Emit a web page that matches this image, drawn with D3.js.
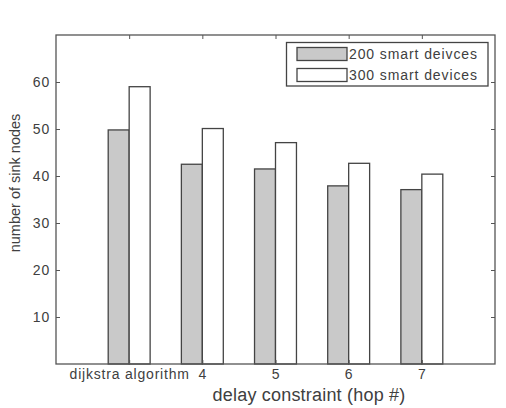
<!DOCTYPE html>
<html>
<head>
<meta charset="utf-8">
<script src="https://cdn.jsdelivr.net/npm/d3@7"></script>
<style>
  html, body { margin: 0; padding: 0; background: #fff; }
  svg { display: block; font-family: "Liberation Sans", Arial, sans-serif; }
</style>
</head>
<body>
<svg id="chart" width="506" height="408"></svg>
<script>
const categories = ["dijkstra algorithm", "4", "5", "6", "7"];
const seriesNames = ["200 smart deivces", "300 smart devices"];
const series200 = [49.8, 42.5, 41.5, 37.9, 37.1];
const series300 = [59.0, 50.1, 47.1, 42.7, 40.4];
const yTicks = [10, 20, 30, 40, 50, 60];

(function () {
const svg = d3.select("#chart");
const W = 506, H = 408;
const pLeft = 56, pRight = 495, pTop = 35, pBottom = 364;
const textColor = "#404040", axisColor = "#555";

const x = d3.scaleLinear().domain([0, categories.length + 1]).range([pLeft, pRight]);
const y = d3.scaleLinear().domain([0, 70]).range([pBottom, pTop]);
const barW = 0.2865;

svg.append("rect").attr("width", W).attr("height", H).attr("fill", "#fff");

// bars
const data = categories.map((c, i) => ({ c, i: i + 1, v: [series200[i], series300[i]] }));
const fills = ["#c9c9c9", "#ffffff"];
const g = svg.append("g");
data.forEach(d => {
  d.v.forEach((v, s) => {
    const x0 = x(d.i - barW + s * barW);
    const x1 = x(d.i + s * barW);
    g.append("rect")
      .attr("x", x0).attr("y", y(v))
      .attr("width", x1 - x0).attr("height", y(0) - y(v))
      .attr("fill", fills[s]).attr("stroke", "#444").attr("stroke-width", 1.3);
  });
});

// axes box
svg.append("rect").attr("x", pLeft).attr("y", pTop).attr("width", pRight - pLeft).attr("height", pBottom - pTop)
  .attr("fill", "none").attr("stroke", axisColor).attr("stroke-width", 1.3);

const styleAxis = sel => {
  sel.select(".domain").remove();
  sel.selectAll("line").attr("stroke", axisColor).attr("stroke-width", 1);
  sel.selectAll("text").attr("fill", textColor).style("font-size", "14px").style("letter-spacing", "0.8px");
};

svg.append("g").attr("transform", `translate(${pLeft},0)`)
  .call(d3.axisLeft(y).tickValues(yTicks).tickSizeInner(-4).tickSizeOuter(0).tickPadding(6))
  .call(styleAxis);
svg.append("g").attr("transform", `translate(${pRight},0)`)
  .call(d3.axisRight(y).tickValues(yTicks).tickSizeInner(-4).tickSizeOuter(0).tickFormat(""))
  .call(styleAxis);
svg.append("g").attr("transform", `translate(0,${pBottom})`)
  .call(d3.axisBottom(x).tickValues(d3.range(1, categories.length + 1)).tickSizeInner(-4).tickSizeOuter(0)
    .tickPadding(5).tickFormat((d, i) => categories[i]))
  .call(styleAxis);
svg.append("g").attr("transform", `translate(0,${pTop})`)
  .call(d3.axisTop(x).tickValues(d3.range(1, categories.length + 1)).tickSizeInner(-4).tickSizeOuter(0).tickFormat(""))
  .call(styleAxis);

// axis labels
svg.append("text").attr("x", 309).attr("y", 401).attr("text-anchor", "middle")
  .attr("fill", textColor).style("font-size", "18px").style("letter-spacing", "0.2px").text("delay constraint (hop #)");
svg.append("text").attr("transform", "translate(20,183) rotate(-90)").attr("text-anchor", "middle")
  .attr("fill", textColor).style("font-size", "14.5px").text("number of sink nodes");

// legend
const lg = svg.append("g");
lg.append("rect").attr("x", 286.5).attr("y", 42.5).attr("width", 201.5).attr("height", 43.5)
  .attr("fill", "#fff").attr("stroke", "#444").attr("stroke-width", 1.3);
seriesNames.forEach((name, s) => {
  const yy = 47.5 + s * 21;
  lg.append("rect").attr("x", 297).attr("y", yy).attr("width", 50).attr("height", 13)
    .attr("fill", fills[s]).attr("stroke", "#444").attr("stroke-width", 1.3);
  lg.append("text").attr("x", 349).attr("y", yy + 11.5).attr("fill", textColor)
    .style("font-size", "14px").style("letter-spacing", "0.9px").text(name);
});
})();
</script>
</body>
</html>
